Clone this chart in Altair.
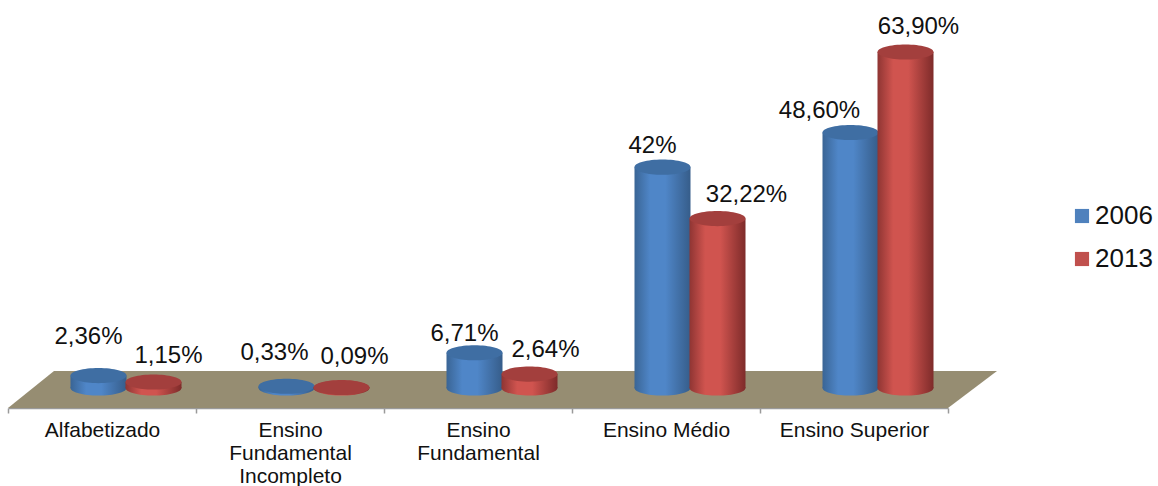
import altair as alt
import pandas as pd

# Escolaridade por ano: valores, rótulos e categorias do gráfico
categorias = [
    "Alfabetizado",
    "Ensino Fundamental Incompleto",
    "Ensino Fundamental",
    "Ensino Médio",
    "Ensino Superior",
]
anos = ["2006", "2013"]
valores_2006 = [2.36, 0.33, 6.71, 42.0, 48.6]
valores_2013 = [1.15, 0.09, 2.64, 32.22, 63.9]
rotulos_2006 = ["2,36%", "0,33%", "6,71%", "42%", "48,60%"]
rotulos_2013 = ["1,15%", "0,09%", "2,64%", "32,22%", "63,90%"]

FONT = "Liberation Sans"
W, H = 1158, 486

# Deslocamento de cada rótulo em relação ao topo do cilindro
nudges_2006 = [(-10, -39), (-12, -33), (-10, -19), (-10, -21), (-31, -21)]
nudges_2013 = [(15, -26), (13, -31), (16, -24), (29, -24), (13, -25)]

rows = []
for ano, vals, rots, nudges in [
    ("2006", valores_2006, rotulos_2006, nudges_2006),
    ("2013", valores_2013, rotulos_2013, nudges_2013),
]:
    for cat, v, r, n in zip(categorias, vals, rots, nudges):
        rows.append(dict(categoria=cat, ano=ano, valor=v, base=0.0, rotulo=r, dx=n[0], dy=n[1]))
df = pd.DataFrame(rows)

y_scale = alt.Scale(domain=[0, 63.9], range=[388, 52], nice=False, zero=True)
x_scale = alt.Scale(domain=categorias, range=[32, 972], paddingInner=0, paddingOuter=0)
offset_scale = alt.Scale(domain=anos, paddingInner=0, paddingOuter=0.709)

X = alt.X("categoria:N", scale=x_scale, axis=None)
XO = alt.XOffset("ano:N", scale=offset_scale)


def gradiente(borda, meio, borda2):
    return alt.Gradient(
        gradient="linear",
        x1=0, y1=0, x2=1, y2=0,
        stops=[
            alt.GradientStop(offset=0, color=borda),
            alt.GradientStop(offset=0.28, color=meio),
            alt.GradientStop(offset=0.55, color=meio),
            alt.GradientStop(offset=1, color=borda2),
        ],
    )


ELIPSE = (
    "M-1,0C-1,-0.15,-0.552,-0.27,0,-0.27C0.552,-0.27,1,-0.15,1,0"
    "C1,0.15,0.552,0.27,0,0.27C-0.552,0.27,-1,0.15,-1,0Z"
)
TAM_ELIPSE = 56 ** 2

estilos = {
    "2006": dict(corpo=gradiente("#3a6595", "#4f86c8", "#365d8a"), topo="#3f6ea3"),
    "2013": dict(corpo=gradiente("#8f3533", "#d0544f", "#7e2b2a"), topo="#a33f3d"),
}

# Plano do chão em perspectiva
chao_df = pd.DataFrame({"py": [371, 408], "x0": [54, 8], "x1": [997, 948]})
chao = (
    alt.Chart(chao_df)
    .mark_area(orient="horizontal", color="#968d72")
    .encode(
        y=alt.Y("py:Q", scale=None, axis=None),
        x=alt.X("x0:Q", scale=None, axis=None),
        x2="x1:Q",
    )
)

# Eixo de categorias na borda frontal do chão
eixo = (
    alt.Chart(pd.DataFrame({"categoria": categorias}))
    .mark_point(opacity=0)
    .encode(
        x=alt.X(
            "categoria:N",
            scale=alt.Scale(domain=categorias, range=[8, 948], paddingInner=0, paddingOuter=0),
            axis=alt.Axis(
                orient="bottom",
                offset=-78,
                title=None,
                labelAngle=0,
                labelAlign="center",
                labelFont=FONT,
                labelFontSize=21,
                labelColor="#111111",
                labelLineHeight=23,
                labelPadding=6,
                labelLimit=400,
                labelOverlap=False,
                labelExpr="indexof(datum.label, 'Fundamental') >= 0 ? split(datum.label, ' ') : datum.label",
                tickBand="extent",
                tickSize=5,
                tickColor="#9a9a9a",
                domainColor="#9a9a9a",
                tickWidth=1.5,
                domainWidth=1.5,
                grid=False,
            ),
        ),
        y=alt.value(0),
    )
)

# Barras lisas sob o degradê: dão a cor de cada ano e a legenda
legenda = alt.Legend(
    title=None,
    orient="none",
    legendX=1069,
    legendY=203,
    symbolType="square",
    symbolSize=200,
    symbolStrokeWidth=0,
    labelFont=FONT,
    labelFontSize=26,
    labelColor="#111111",
    labelOffset=0,
    rowPadding=17,
)
lisas = (
    alt.Chart(df)
    .mark_bar(width=54)
    .encode(
        x=X,
        xOffset=XO,
        y=alt.Y("valor:Q", scale=y_scale, axis=None),
        y2="base:Q",
        fill=alt.Fill(
            "ano:N",
            scale=alt.Scale(domain=anos, range=["#4f81bd", "#c0504d"]),
            legend=legenda,
        ),
    )
)

camadas = [lisas]
for ano in anos:
    serie = alt.Chart(df).transform_filter(alt.datum.ano == ano)
    e = estilos[ano]
    corpo = serie.mark_bar(width=56, fill=e["corpo"]).encode(
        x=X, xOffset=XO,
        y=alt.Y("valor:Q", scale=y_scale, axis=None),
        y2="base:Q",
    )
    fundo = serie.mark_point(
        shape=ELIPSE, size=TAM_ELIPSE, filled=True, fill=e["corpo"], opacity=1, strokeWidth=0
    ).encode(x=X, xOffset=XO, y=alt.Y("base:Q", scale=y_scale, axis=None))
    topo = serie.mark_point(
        shape=ELIPSE, size=TAM_ELIPSE, filled=True, fill=e["topo"], opacity=1, strokeWidth=0
    ).encode(x=X, xOffset=XO, y=alt.Y("valor:Q", scale=y_scale, axis=None))
    camadas += [fundo, corpo, topo]

# Rótulos de valor, cada um com seu próprio deslocamento
for linha in rows:
    camadas.append(
        alt.Chart(pd.DataFrame([linha]))
        .mark_text(
            font=FONT, fontSize=24, color="#111111", baseline="middle",
            dx=linha["dx"], dy=linha["dy"],
        )
        .encode(
            x=X, xOffset=XO,
            y=alt.Y("valor:Q", scale=y_scale, axis=None),
            text="rotulo:N",
        )
    )

dados = alt.layer(*camadas)

chart = (
    alt.layer(chao, eixo, dados)
    .resolve_scale(x="independent")
    .properties(
        width=W,
        height=H,
        padding=0,
        autosize=alt.AutoSizeParams(type="none"),
        background="white",
    )
    .configure_view(stroke=None)
)

chart.save("out.html", embed_options={"renderer": "svg", "actions": False})
